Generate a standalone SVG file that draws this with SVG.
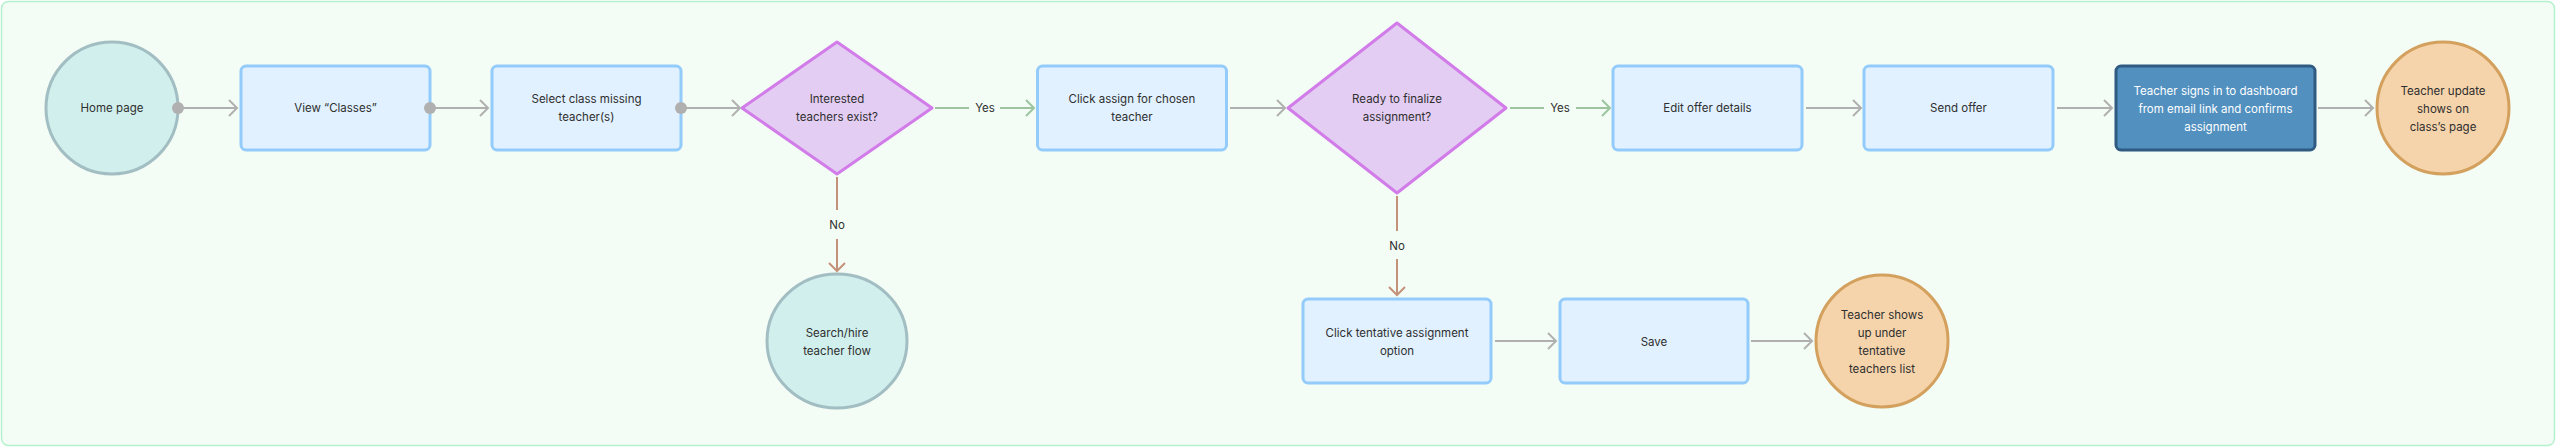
<svg xmlns="http://www.w3.org/2000/svg" width="2556" height="447" viewBox="0 0 2556 447">
<defs>
<style>
text{font-family:Inter,"Noto Sans","Liberation Sans",sans-serif;font-size:11.5px;fill:#2f2f2f;text-anchor:middle;dominant-baseline:central}
.proc{fill:#e1f1ff;stroke:#93cbfb;stroke-width:3}
.start{fill:#d1efed;stroke:#a2bec3;stroke-width:3}
.dec{fill:#e4cdf3;stroke:#d17ce9;stroke-width:3;stroke-linejoin:round}
.dark{fill:#5190bf;stroke:#2f5a82;stroke-width:3}
.end{fill:#f6d4ab;stroke:#d3a05d;stroke-width:3}
.wt{fill:#ffffff}
.c{fill:none;stroke-width:2}
.g{stroke:#b0b0b0}
.y{stroke:#9dc49f}
.n{stroke:#c4927b}
.dot{fill:#b0b0b0}
</style>
<marker id="ag" markerUnits="userSpaceOnUse" markerWidth="12" markerHeight="20" refX="9" refY="9" orient="auto"><path d="M1,1 L9,9 L1,17" fill="none" stroke="#b0b0b0" stroke-width="2"/></marker>
<marker id="ay" markerUnits="userSpaceOnUse" markerWidth="12" markerHeight="20" refX="9" refY="9" orient="auto"><path d="M1,1 L9,9 L1,17" fill="none" stroke="#9dc49f" stroke-width="2"/></marker>
<marker id="an" markerUnits="userSpaceOnUse" markerWidth="12" markerHeight="20" refX="9" refY="9" orient="auto"><path d="M1,1 L9,9 L1,17" fill="none" stroke="#c4927b" stroke-width="2"/></marker>
</defs>
<rect x="1.5" y="1.5" width="2553" height="444" rx="7" fill="#f3fdf5" stroke="#b5f1cc" stroke-width="1.5"/>

<g id="home">
<circle class="start" cx="112" cy="108" r="66"/>
<text x="112" y="108">Home page</text>
</g>
<g id="view-classes">
<rect class="proc" x="241" y="66" width="189" height="84" rx="5"/>
<text x="335.5" y="108">View “Classes”</text>
</g>
<g id="select-class">
<rect class="proc" x="492" y="66" width="189" height="84" rx="5"/>
<text x="586.5" y="99">Select class missing</text>
<text x="586.5" y="117">teacher(s)</text>
</g>
<g id="interested">
<path class="dec" d="M837,42 L932,108 L837,174 L742,108 Z"/>
<text x="837" y="99">Interested</text>
<text x="837" y="117">teachers exist?</text>
</g>
<g id="search-hire">
<ellipse class="start" cx="837" cy="341" rx="70" ry="67"/>
<text x="837" y="333">Search/hire</text>
<text x="837" y="351">teacher flow</text>
</g>
<g id="click-assign">
<rect class="proc" x="1037.5" y="66" width="189" height="84" rx="5"/>
<text x="1132" y="99">Click assign for chosen</text>
<text x="1132" y="117">teacher</text>
</g>
<g id="ready">
<path class="dec" d="M1397,23 L1506,108 L1397,193 L1288,108 Z"/>
<text x="1397" y="99">Ready to finalize</text>
<text x="1397" y="117">assignment?</text>
</g>
<g id="edit-offer">
<rect class="proc" x="1613" y="66" width="189" height="84" rx="5"/>
<text x="1707.5" y="108">Edit offer details</text>
</g>
<g id="send-offer">
<rect class="proc" x="1864" y="66" width="189" height="84" rx="5"/>
<text x="1958.5" y="108">Send offer</text>
</g>
<g id="teacher-signs">
<rect class="dark" x="2116" y="66" width="199" height="84" rx="5"/>
<text class="wt" x="2215.5" y="90.5">Teacher signs in to dashboard</text>
<text class="wt" x="2215.5" y="108.5">from email link and confirms</text>
<text class="wt" x="2215.5" y="126.5">assignment</text>
</g>
<g id="teacher-update">
<circle class="end" cx="2443" cy="108" r="66"/>
<text x="2443" y="90.5">Teacher update</text>
<text x="2443" y="108.5">shows on</text>
<text x="2443" y="126.5">class’s page</text>
</g>
<g id="click-tentative">
<rect class="proc" x="1303" y="299" width="188" height="84" rx="5"/>
<text x="1397" y="332.5">Click tentative assignment</text>
<text x="1397" y="350.5">option</text>
</g>
<g id="save">
<rect class="proc" x="1560" y="299" width="188" height="84" rx="5"/>
<text x="1654" y="341.5">Save</text>
</g>
<g id="teacher-shows">
<circle class="end" cx="1882" cy="341" r="66"/>
<text x="1882" y="315">Teacher shows</text>
<text x="1882" y="333">up under</text>
<text x="1882" y="351">tentative</text>
<text x="1882" y="369">teachers list</text>
</g>

<g id="connectors">
<path class="c g" d="M178,108 H237" marker-end="url(#ag)"/>
<path class="c g" d="M430,108 H488" marker-end="url(#ag)"/>
<path class="c g" d="M681,108 H740" marker-end="url(#ag)"/>
<path class="c y" d="M935,108 H969"/>
<text x="985" y="108">Yes</text>
<path class="c y" d="M1000,108 H1034" marker-end="url(#ay)"/>
<path class="c g" d="M1230,108 H1285" marker-end="url(#ag)"/>
<path class="c y" d="M1510,108 H1544"/>
<text x="1560" y="108">Yes</text>
<path class="c y" d="M1576,108 H1610" marker-end="url(#ay)"/>
<path class="c g" d="M1806,108 H1861" marker-end="url(#ag)"/>
<path class="c g" d="M2057,108 H2112" marker-end="url(#ag)"/>
<path class="c g" d="M2318,108 H2373" marker-end="url(#ag)"/>
<path class="c n" d="M837,177 V210"/>
<text x="837" y="225">No</text>
<path class="c n" d="M837,239 V271" marker-end="url(#an)"/>
<path class="c n" d="M1397,196 V231"/>
<text x="1397" y="246">No</text>
<path class="c n" d="M1397,259 V295" marker-end="url(#an)"/>
<path class="c g" d="M1495,341 H1556" marker-end="url(#ag)"/>
<path class="c g" d="M1751,341 H1812" marker-end="url(#ag)"/>
<circle class="dot" cx="178" cy="108" r="6"/>
<circle class="dot" cx="430" cy="108" r="6"/>
<circle class="dot" cx="681" cy="108" r="6"/>
</g>
</svg>
